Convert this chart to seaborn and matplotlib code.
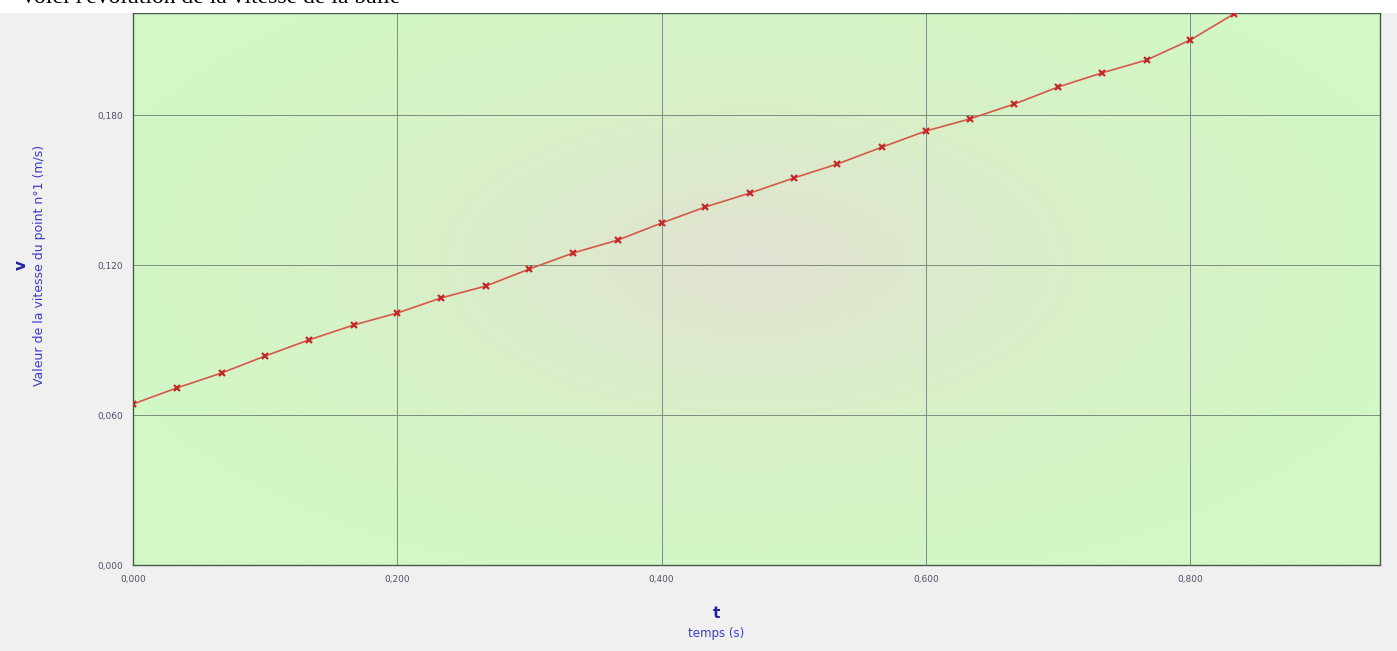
import numpy as np
import pandas as pd
import seaborn as sns
import matplotlib.pyplot as plt
from matplotlib.ticker import MultipleLocator, FuncFormatter
from matplotlib.colors import LinearSegmentedColormap
from matplotlib.patches import Rectangle

t = [0.000, 0.033, 0.067, 0.100, 0.133, 0.167, 0.200, 0.233, 0.267, 0.300,
     0.333, 0.367, 0.400, 0.433, 0.467, 0.500, 0.533, 0.567, 0.600, 0.633,
     0.667, 0.700, 0.733, 0.767, 0.800, 0.833, 0.867]
v = [0.0644, 0.0708, 0.0768, 0.0836, 0.0900, 0.0960, 0.1008, 0.1068, 0.1116, 0.1184,
     0.1248, 0.1300, 0.1368, 0.1432, 0.1488, 0.1548, 0.1604, 0.1672, 0.1736, 0.1784,
     0.1844, 0.1912, 0.1968, 0.2020, 0.2100, 0.2204, 0.2320]
x_ticks = [0.0, 0.2, 0.4, 0.6, 0.8]
y_ticks = [0.0, 0.06, 0.12, 0.18]

df = pd.DataFrame({'t': t, 'v': v})

sns.set_style('white')
plt.rcParams['font.family'] = ['DejaVu Sans']

fig = plt.figure(figsize=(13.97, 6.51), dpi=100, facecolor='#f0f0f0')
ax = fig.add_axes([133/1397, 86/651, 1247/1397, 552/651])

# fond en degrade radial (vert clair sur les bords, beige au centre)
gx, gy = np.meshgrid(np.linspace(0, 1, 300), np.linspace(0, 1, 200))
r = np.sqrt(((gx - 0.5) / 0.55) ** 2 + ((gy - 0.55) / 0.6) ** 2)
cmap = LinearSegmentedColormap.from_list('bg', ['#e2e2d2', '#d8f0c8', '#d2f8c6'])
ax.imshow(np.clip(r, 0, 1), extent=[0, 1, 0, 1], transform=ax.transAxes,
          cmap=cmap, aspect='auto', zorder=0, origin='lower', vmin=0, vmax=1)

sns.lineplot(data=df, x='t', y='v', ax=ax, color='#d4584a', linewidth=1.2,
             marker='x', markersize=5, markeredgewidth=1.6,
             markeredgecolor='#c42828', sort=False, zorder=3, clip_on=True)

ax.set_xlim(0, 0.9436)
ax.set_ylim(0, 0.2208)
ax.set_xticks(x_ticks)
ax.set_yticks(y_ticks)
ax.xaxis.set_minor_locator(MultipleLocator(0.04))
ax.yaxis.set_minor_locator(MultipleLocator(0.012))
fmt = FuncFormatter(lambda val, pos: f'{val:.3f}'.replace('.', ','))
ax.xaxis.set_major_formatter(fmt)
ax.yaxis.set_major_formatter(fmt)
ax.tick_params(axis='both', which='major', labelsize=6.5, labelcolor='#50506a',
               length=4, width=0.8, color='#4a5a4a', direction='out', pad=3)
ax.tick_params(axis='both', which='minor', length=3, width=0.6,
               color='#6a7a6a', direction='in')
ax.grid(True, which='major', color='#7e8e7e', linewidth=0.7)
for s in ax.spines.values():
    s.set_color('#4a5a4a')
    s.set_linewidth(1.0)
ax.set_xlabel('')
ax.set_ylabel('')

# bandeau blanc du haut avec le titre coupe
fig.patches.append(Rectangle((0, 638/651), 1, 13/651, transform=fig.transFigure,
                             facecolor='white', edgecolor='none', zorder=5))
fig.text(20/1397, 648/651, "Voici l'évolution de la vitesse de la balle",
         fontsize=17, family='Liberation Serif', va='baseline', ha='left',
         color='black', zorder=6)

# titres des axes
fig.text(21/1397, 1 - 265/651, 'v', fontsize=11, fontweight='bold',
         color='#2020a0', rotation=90, ha='center', va='center')
fig.text(40/1397, 1 - 265/651, 'Valeur de la vitesse du point n°1 (m/s)',
         fontsize=9, color='#3a3ad0', rotation=90, ha='center', va='center')
fig.text(716/1397, 1 - 614/651, 't', fontsize=11, fontweight='bold',
         color='#2020a0', ha='center', va='center')
fig.text(716/1397, 1 - 633/651, 'temps (s)', fontsize=8.5, color='#3a3ad0',
         ha='center', va='center')

fig.savefig('out.png', dpi=100, facecolor=fig.get_facecolor())
